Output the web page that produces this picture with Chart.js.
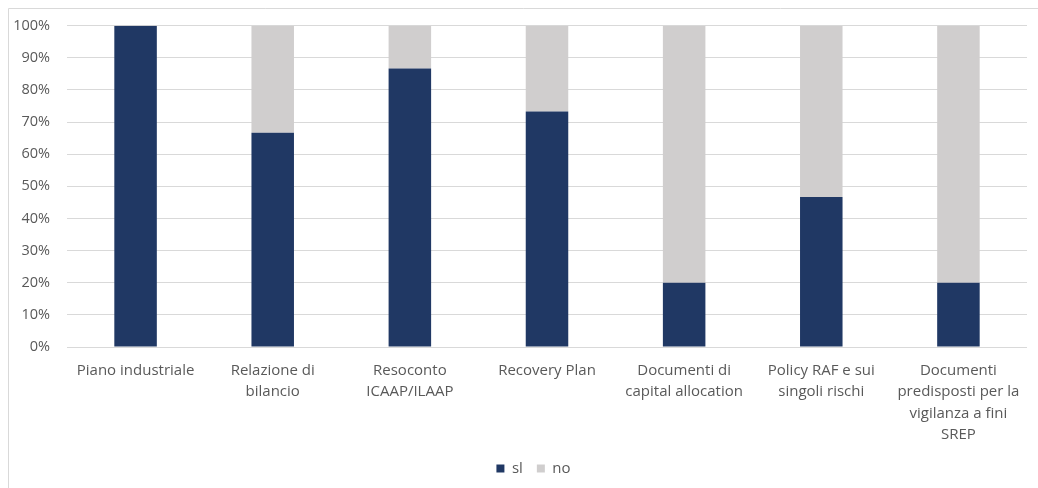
<!DOCTYPE html>
<html><head><meta charset="utf-8">
<script src="https://cdn.jsdelivr.net/npm/chart.js@4/dist/chart.umd.min.js"></script>
<style>html,body{margin:0;padding:0;background:#fff;}#wrap{position:relative;width:1038px;height:488px;}</style>
</head><body><div id="wrap"><canvas id="c" width="1038" height="488"></canvas></div>
<script>
const categories = [
  "Piano industriale",
  ["Relazione di", "bilancio"],
  ["Resoconto", "ICAAP/ILAAP"],
  "Recovery Plan",
  ["Documenti di", "capital allocation"],
  ["Policy RAF e sui", "singoli rischi"],
  ["Documenti", "predisposti per la", "vigilanza a fini", "SREP"]
];
const siValues = [100, 66.7, 86.7, 73.3, 20, 46.7, 20];
const noValues = [0, 33.3, 13.3, 26.7, 80, 53.3, 80];
const seriesNames = ["sl", "no"];

const borderPlugin = {
  id: 'frame',
  afterLayout(chart) {
    if (chart.legend) { chart.legend.left += 20; chart.legend.right += 20; }
  },
  beforeDraw(chart) {
    const ctx = chart.ctx;
    ctx.save();
    ctx.strokeStyle = '#d9d9d9';
    ctx.lineWidth = 1;
    ctx.beginPath();
    ctx.moveTo(8.5, 488);
    ctx.lineTo(8.5, 8.5);
    ctx.lineTo(1038, 8.5);
    ctx.stroke();
    ctx.restore();
  }
};

const font = { family: "'Open Sans', sans-serif", size: 14 };
new Chart(document.getElementById('c'), {
  type: 'bar',
  data: {
    labels: categories,
    datasets: [
      { label: seriesNames[0], data: siValues, backgroundColor: '#203864', barPercentage: 0.62, categoryPercentage: 0.5 },
      { label: seriesNames[1], data: noValues, backgroundColor: '#d0cece', barPercentage: 0.62, categoryPercentage: 0.5 }
    ]
  },
  options: {
    responsive: false,
    animation: false,
    devicePixelRatio: 1,
    layout: { padding: { left: 0, right: 11, top: 23, bottom: 2 } },
    plugins: {
      legend: {
        position: 'bottom',
        labels: { boxWidth: 8, boxHeight: 8, padding: 14, color: '#595959', font: { ...font, size: 15 } }
      },
      tooltip: { enabled: false }
    },
    scales: {
      x: {
        stacked: true,
        grid: { display: false },
        border: { display: false },
        ticks: { color: '#595959', font: { ...font, size: 15, lineHeight: 1.43 }, maxRotation: 0, autoSkip: false, padding: 5 },
        afterFit(s) { s.height = 100; }
      },
      y: {
        stacked: true,
        min: 0, max: 100,
        grid: { color: '#d9d9d9', drawTicks: false },
        border: { display: false },
        ticks: { stepSize: 10, color: '#595959', font: { ...font, size: 14.5 }, padding: 17, callback: v => v + '%' },
        afterFit(s) { s.width = 67; }
      }
    }
  },
  plugins: [borderPlugin]
});
</script></body></html>
